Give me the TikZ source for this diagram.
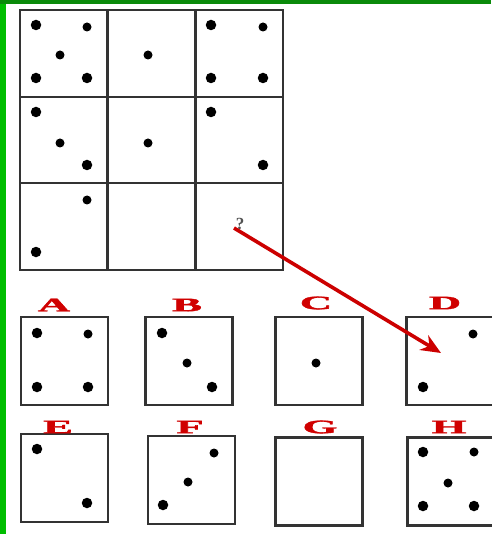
\documentclass[tikz,border=0pt]{standalone}
\usepackage{fontspec}
\setmainfont{Liberation Serif}
\newfontfamily\lblfont[BoldFeatures={FakeBold=1.6}]{Liberation Serif}
\usetikzlibrary{arrows.meta}
\definecolor{gtop}{HTML}{0A8A0A}
\definecolor{gleft}{HTML}{00BE00}
\definecolor{frame}{HTML}{333333}
\definecolor{lblred}{HTML}{D00000}
\definecolor{arrred}{HTML}{CC0000}
\tikzset{
  cell/.style={draw=frame, line width=1.7pt, minimum width=87pt, minimum height=87pt, inner sep=0pt},
  optbox/.style={draw=frame, line width=2.1pt, minimum width=87pt, minimum height=88pt, inner sep=0pt},
  bigdot/.style={fill=black, circle, inner sep=0pt, minimum size=10.5pt},
  smalldot/.style={fill=black, circle, inner sep=0pt, minimum size=9pt},
  lbl/.style={text=lblred, font=\fontsize{19}{19}\lblfont\bfseries, inner sep=0pt},
  arr/.style={draw=arrred, line width=3.6pt, -{Stealth[length=20pt,width=17pt]}}
}
\newcommand{\wide}[1]{\scalebox{2.35}[1]{#1}}
\begin{document}
\begin{tikzpicture}[x=1pt,y=-1pt]
\useasboundingbox (0,0) rectangle (491,534);
\fill[white] (0,0) rectangle (491,534);
\fill[gleft] (0,0) rectangle (6,534);
\fill[gtop] (0,0) rectangle (491,4);
% grid
\node[cell] (c11) at (63.5,53.5) {};
\node[cell] (c12) at (151.5,53.5) {};
\node[cell] (c13) at (239.5,53.5) {};
\node[cell] (c21) at (63.5,140) {};
\node[cell] (c22) at (151.5,140) {};
\node[cell] (c23) at (239.5,140) {};
\node[cell] (c31) at (63.5,226.5) {};
\node[cell] (c32) at (151.5,226.5) {};
\node[cell] (c33) at (239.5,226.5) {};
% cell dots
\node[bigdot] (d1) at (36,25) {};
\node[smalldot] (d2) at (87,27) {};
\node[smalldot] (d3) at (60,55) {};
\node[bigdot] (d4) at (36,78) {};
\node[bigdot] (d5) at (87,78) {};
\node[smalldot] (d6) at (148,55) {};
\node[bigdot] (d7) at (211,25) {};
\node[smalldot] (d8) at (263,27) {};
\node[bigdot] (d9) at (211,78) {};
\node[bigdot] (d10) at (263,78) {};
\node[bigdot] (d11) at (36,112) {};
\node[smalldot] (d12) at (60,143) {};
\node[bigdot] (d13) at (87,165) {};
\node[smalldot] (d14) at (148,143) {};
\node[bigdot] (d15) at (211,112) {};
\node[bigdot] (d16) at (263,165) {};
\node[smalldot] (d17) at (87,200) {};
\node[bigdot] (d18) at (36,252) {};
\node[text=frame!85, font=\fontsize{17}{17}\selectfont\bfseries, inner sep=0pt] (q) at (240,224) {?};
% options
\node[optbox] (A) at (64.5,361) {};
\node[optbox] (B) at (189,361) {};
\node[optbox] (C) at (319,361) {};
\node[optbox] (D) at (450,361) {};
\node[optbox] (E) at (64.5,478) {};
\node[optbox] (F) at (191.5,480) {};
\node[optbox] (G) at (319,481.5) {};
\node[optbox] (H) at (451,481.5) {};
\node[lbl] (lA) at (54,305) {\wide{A}};
\node[lbl] (lB) at (187,305) {\wide{B}};
\node[lbl] (lC) at (316,303) {\wide{C}};
\node[lbl] (lD) at (445,303) {\wide{D}};
\node[lbl] (lE) at (58,427) {\wide{E}};
\node[lbl] (lF) at (190,427) {\wide{F}};
\node[lbl] (lG) at (320,427) {\wide{G}};
\node[lbl] (lH) at (449,427) {\wide{H}};
% option dots
\node[bigdot] (a1) at (37,333) {};
\node[smalldot] (a2) at (88,334) {};
\node[bigdot] (a3) at (37,387) {};
\node[bigdot] (a4) at (88,387) {};
\node[bigdot] (b1) at (162,333) {};
\node[smalldot] (b2) at (187,363) {};
\node[bigdot] (b3) at (212,387) {};
\node[smalldot] (cc1) at (316,363) {};
\node[smalldot] (dd1) at (473,334) {};
\node[bigdot] (dd2) at (423,387) {};
\node[bigdot] (e1) at (37,449) {};
\node[bigdot] (e2) at (87,503) {};
\node[smalldot] (f1) at (214,453) {};
\node[smalldot] (f2) at (188,482) {};
\node[bigdot] (f3) at (163,505) {};
\node[bigdot] (h1) at (423,452) {};
\node[smalldot] (h2) at (474,452) {};
\node[smalldot] (h3) at (448,483) {};
\node[bigdot] (h4) at (423,506) {};
\node[bigdot] (h5) at (474,506) {};
% arrow
\coordinate (as) at (234,228);
\coordinate (at) at (441,353);
\draw[arr] (as) -- (at);
\end{tikzpicture}
\end{document}
